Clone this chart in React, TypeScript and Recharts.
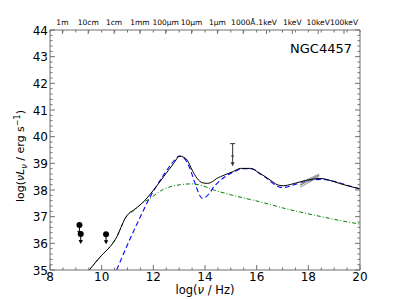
import React from 'react'
import { ComposedChart, Line, Scatter, XAxis, YAxis, Label } from 'recharts'

// log(nu / Hz) vs log(nu L_nu / erg s^-1)
const totalNu = [9.52, 10.0, 10.33, 10.59, 10.75, 10.91, 11.05, 11.24, 11.62, 12.01, 12.4, 12.79, 13.02, 13.15, 13.31, 13.5, 13.7, 13.9, 14.1, 14.3, 14.45, 14.6, 14.85, 15.06, 15.38, 15.77, 16.09, 16.3, 16.6, 16.85, 17.05, 17.32, 17.7, 18.1, 18.49, 18.8, 19.26, 19.6, 20.0]
const totalL = [35.0, 35.55, 35.88, 36.25, 36.6, 36.94, 37.12, 37.25, 37.56, 38.0, 38.5, 39.0, 39.27, 39.24, 39.12, 38.75, 38.43, 38.27, 38.25, 38.32, 38.43, 38.5, 38.6, 38.68, 38.81, 38.81, 38.64, 38.52, 38.32, 38.18, 38.16, 38.21, 38.31, 38.4, 38.43, 38.37, 38.23, 38.14, 38.04]

const dustNu = [10.58, 11.11, 11.56, 11.88, 12.27, 12.66, 12.85, 13.0, 13.15, 13.3, 13.44, 13.57, 13.7, 13.76, 13.89, 14.05, 14.21, 14.34, 14.47, 14.75, 14.99, 15.2, 15.44, 15.7, 15.9, 16.1, 16.41, 16.7, 16.93, 17.1, 17.45, 17.84, 18.2, 18.49, 18.8, 19.2, 19.6, 20.0]
const dustL = [35.0, 36.19, 37.12, 37.75, 38.37, 38.93, 39.15, 39.27, 39.22, 39.05, 38.75, 38.37, 38.02, 37.87, 37.69, 37.75, 37.93, 38.12, 38.25, 38.48, 38.62, 38.72, 38.8, 38.8, 38.77, 38.63, 38.43, 38.2, 38.1, 38.1, 38.2, 38.31, 38.38, 38.4, 38.37, 38.27, 38.15, 38.04]

const synchNu = [9.52, 10.0, 10.33, 10.59, 10.75, 10.91, 11.05, 11.24, 11.5, 11.88, 12.4, 13.05, 13.5, 13.83, 14.34, 15.0, 16.28, 17.0, 18.22, 19.0, 20.0]
const synchL = [35.0, 35.55, 35.88, 36.25, 36.6, 36.94, 37.1, 37.22, 37.45, 37.69, 38.03, 38.2, 38.23, 38.18, 38.0, 37.82, 37.52, 37.33, 37.06, 36.9, 36.72]

const radioNu = [9.14, 9.19, 10.17]
const radioL = [36.69, 36.35, 36.34]

const midNu = [15.07]
const midL = [39.27]

const xrayNu = [17.68, 18.42]
const xrayL = [38.18, 38.56]
const xrayHi = [38.27, 38.6]
const xrayLo = [38.1, 38.5]

const topLabelNu = [8.48, 9.48, 10.48, 11.48, 12.48, 13.48, 14.48, 15.48, 16.38, 17.38, 18.38, 19.38]
const topLabels = ['1m', '10cm', '1cm', '1mm', '100μm', '10μm', '1μm', '1000Å', '.1keV', '1keV', '10keV', '100keV']

const xMajor = [8, 10, 12, 14, 16, 18, 20]
const yMajor = [35, 36, 37, 38, 39, 40, 41, 42, 43, 44]

const xTicks = Array.from({ length: 25 }, (_, i) => 8 + i * 0.5)
const yTicks = Array.from({ length: 46 }, (_, i) => Math.round((35 + i * 0.2) * 10) / 10)

const zip = (xs: number[], ys: number[]) => xs.map((x, i) => ({ x, y: ys[i] }))

const totalData = zip(totalNu, totalL)
const dustData = zip(dustNu, dustL)
const synchData = zip(synchNu, synchL)
const radioData = zip(radioNu, radioL)
const midData = zip(midNu, midL)
const xrayData = zip(xrayNu, xrayL)
const xrayHiData = zip(xrayNu, xrayHi)
const xrayLoData = zip(xrayNu, xrayLo)

const FONT = 'DejaVu Sans'
const FRAME = '#707070'

const BottomTick = (p: any) => {
  const v = p.payload.value
  const major = xMajor.includes(v)
  return (
    <g>
      <line x1={p.x} x2={p.x} y1={p.y} y2={p.y - (major ? 5 : 2.5)} stroke={FRAME} />
      {major && (
        <text x={p.x} y={p.y + 11} textAnchor="middle" fontSize={12} fontFamily={FONT} fill="#000">{v}</text>
      )}
    </g>
  )
}

const TopTick = (p: any) => {
  const v = p.payload.value
  const idx = topLabelNu.indexOf(v)
  return (
    <g>
      <line x1={p.x} x2={p.x} y1={p.y} y2={p.y + (idx >= 0 ? 4 : 2.5)} stroke={FRAME} />
      {idx >= 0 && (
        <text x={p.x} y={p.y - 5} textAnchor="middle" fontSize={7.5} fontFamily={FONT} fill="#000">{topLabels[idx]}</text>
      )}
    </g>
  )
}

const LeftTick = (p: any) => {
  const v = p.payload.value
  const major = yMajor.includes(v)
  return (
    <g>
      <line x1={p.x} x2={p.x + (major ? 5 : 2.5)} y1={p.y} y2={p.y} stroke={FRAME} />
      {major && (
        <text x={p.x - 2} y={p.y + 4.5} textAnchor="end" fontSize={12} fontFamily={FONT} fill="#000">{v}</text>
      )}
    </g>
  )
}

const RightTick = (p: any) => {
  const major = yMajor.includes(p.payload.value)
  return <line x1={p.x} x2={p.x - (major ? 5 : 2.5)} y1={p.y} y2={p.y} stroke={FRAME} />
}

// upper limit: filled circle with arrow pointing down
const LimitDot = (p: any) => (
  <g>
    <line x1={p.cx} x2={p.cx} y1={p.cy} y2={p.cy + 8} stroke="#000" />
    <path d={`M${p.cx - 2.2},${p.cy + 6} L${p.cx + 2.2},${p.cy + 6} L${p.cx},${p.cy + 10} Z`} fill="#000" />
    <circle cx={p.cx} cy={p.cy} r={3} fill="#000" />
  </g>
)

const MidLimit = (p: any) => (
  <g>
    <line x1={p.cx} x2={p.cx} y1={p.cy - 12.5} y2={p.cy + 8} stroke="#333" />
    <line x1={p.cx - 2.5} x2={p.cx + 2.5} y1={p.cy - 12.5} y2={p.cy - 12.5} stroke="#333" />
    <line x1={p.cx - 1.5} x2={p.cx + 1.5} y1={p.cy} y2={p.cy} stroke="#333" />
    <path d={`M${p.cx - 2},${p.cy + 6} L${p.cx + 2},${p.cy + 6} L${p.cx},${p.cy + 10} Z`} fill="#333" />
  </g>
)

const YTitle = (props: any) => {
  const vb = props.viewBox
  const cx = 24
  const cy = vb.y + vb.height / 2 + 6
  return (
    <text x={cx} y={cy} transform={`rotate(-90 ${cx} ${cy})`} textAnchor="middle" fontSize={11} fontFamily={FONT} fill="#000">
      log(<tspan fontStyle="italic">νL</tspan><tspan fontStyle="italic" fontSize={8} dy={3}>ν</tspan>
      <tspan dy={-3}> / erg s</tspan><tspan fontSize={8} dy={-4}>−1</tspan><tspan dy={4}>)</tspan>
    </text>
  )
}

const XTitle = (props: any) => {
  const vb = props.viewBox
  return (
    <text x={vb.x + vb.width / 2} y={294} textAnchor="middle" fontSize={11.5} fontFamily={FONT} fill="#000">
      log(<tspan fontStyle="italic">ν</tspan> / Hz)
    </text>
  )
}

const NameTitle = (props: any) => {
  const vb = props.viewBox
  return (
    <text x={vb.x + vb.width - 8} y={53} textAnchor="end" fontSize={13} fontFamily={FONT} fill="#000">NGC4457</text>
  )
}

export default function App() {
  return (
    <div style={{ position: 'fixed', left: 0, top: 0, width: 400, height: 300, background: '#fff' }}>
      <ComposedChart width={400} height={300} margin={{ top: 0, right: 0, bottom: 0, left: 0 }}>
        <XAxis xAxisId="b" dataKey="x" type="number" domain={[8, 20]} allowDataOverflow ticks={xTicks} interval={0}
          height={30} tickSize={0} tickMargin={0} tick={BottomTick} axisLine={{ stroke: FRAME }}>
          <Label content={XTitle} />
        </XAxis>
        <XAxis xAxisId="t" dataKey="x" orientation="top" type="number" domain={[8, 20]} allowDataOverflow
          ticks={[...xTicks, ...topLabelNu]} interval={0} height={30} tickSize={0} tickMargin={0} tick={TopTick}
          axisLine={{ stroke: FRAME }}>
          <Label content={NameTitle} />
        </XAxis>
        <YAxis yAxisId="l" dataKey="y" type="number" domain={[35, 44]} allowDataOverflow ticks={yTicks} interval={0}
          width={50} tickSize={0} tickMargin={0} tick={LeftTick} axisLine={{ stroke: FRAME }}>
          <Label content={YTitle} />
        </YAxis>
        <YAxis yAxisId="r" dataKey="y" orientation="right" type="number" domain={[35, 44]} allowDataOverflow ticks={yTicks}
          interval={0} width={40} tickSize={0} tickMargin={0} tick={RightTick} axisLine={{ stroke: FRAME }} />

        <Line xAxisId="t" yAxisId="r" data={synchData} dataKey="y" type="monotone" stroke="#008000" strokeWidth={1}
          strokeDasharray="4 2 1 2" dot={false} isAnimationActive={false} />
        <Line xAxisId="t" yAxisId="r" data={dustData} dataKey="y" type="monotone" stroke="#0000ff" strokeWidth={1.1}
          strokeDasharray="5 3" dot={false} isAnimationActive={false} />
        <Line xAxisId="b" yAxisId="l" data={xrayHiData} dataKey="y" stroke="#999" strokeWidth={1} dot={false} isAnimationActive={false} />
        <Line xAxisId="b" yAxisId="l" data={xrayLoData} dataKey="y" stroke="#999" strokeWidth={1} dot={false} isAnimationActive={false} />
        <Line xAxisId="b" yAxisId="l" data={xrayData} dataKey="y" stroke="#888" strokeWidth={1.5} dot={false} isAnimationActive={false} />
        <Line xAxisId="b" yAxisId="l" data={totalData} dataKey="y" type="monotone" stroke="#000" strokeWidth={1}
          dot={false} isAnimationActive={false} />
        <Scatter xAxisId="b" yAxisId="l" data={radioData} shape={LimitDot} isAnimationActive={false} />
        <Scatter xAxisId="b" yAxisId="l" data={midData} shape={MidLimit} isAnimationActive={false} />
      </ComposedChart>
    </div>
  )
}
